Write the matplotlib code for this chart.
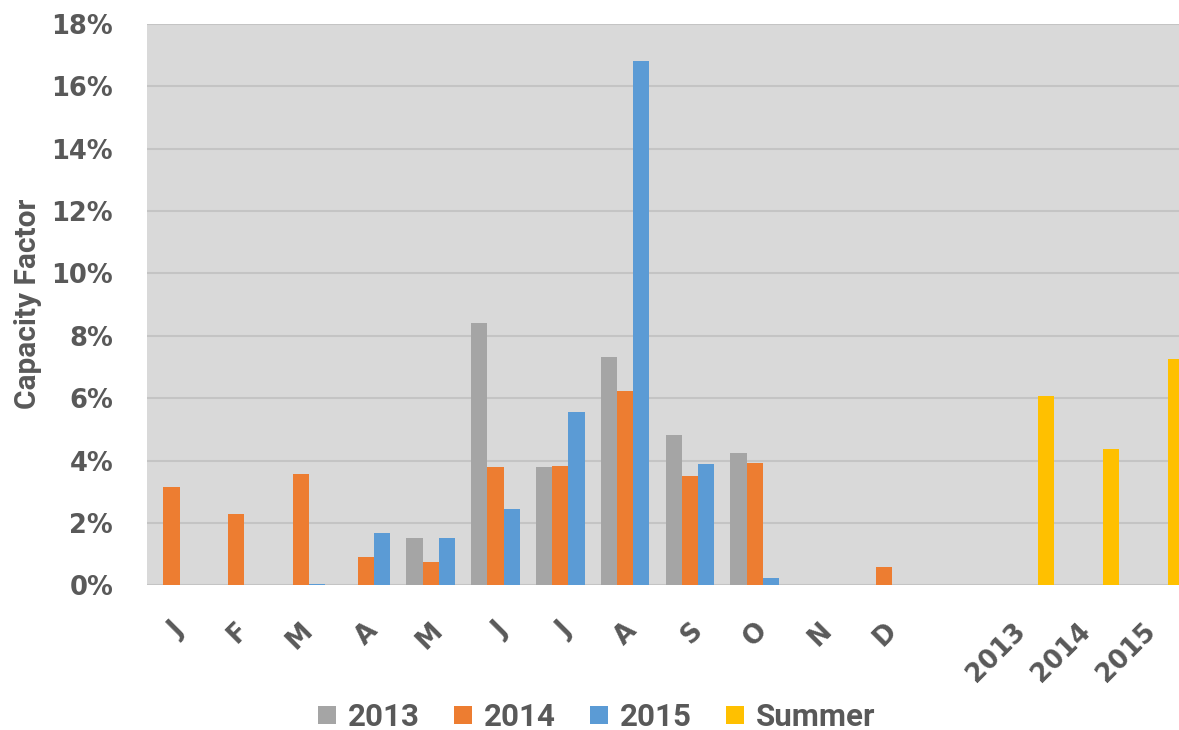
"""
Capacity factor by month
Clustered bars for 2013-2015 plus summer averages
"""
import matplotlib
matplotlib.use('Agg')
import matplotlib.pyplot as plt
from matplotlib.ticker import PercentFormatter
import numpy as np

# -- DATA --
categories = ['J', 'F', 'M', 'A', 'M', 'J', 'J', 'A', 'S', 'O', 'N', 'D',
              '', '2013', '2014', '2015']
cf_2013 = [0, 0, 0, 0, 1.51, 8.40, 3.78, 7.31, 4.82, 4.23, 0, 0,
           0, 0, 0, 0]
cf_2014 = [3.14, 2.28, 3.56, 0.90, 0.75, 3.78, 3.81, 6.24, 3.50, 3.92, 0, 0.60,
           0, 0, 0, 0]
cf_2015 = [0, 0, 0.04, 1.67, 1.51, 2.44, 5.56, 16.82, 3.90, 0.22, 0, 0,
           0, 0, 0, 0]
cf_summer = [0, 0, 0, 0, 0, 0, 0, 0, 0, 0, 0, 0,
             0, 6.07, 4.36, 7.25]
series_names = ['2013', '2014', '2015', 'Summer']
colors = ['#A5A5A5', '#ED7D31', '#5B9BD5', '#FFC000']

TEXT = '#595959'

fig = plt.figure(figsize=(11.79, 7.30), dpi=100, facecolor='white')
# plot area runs a little past the right edge, like the cropped original
ax = fig.add_axes([0.1249, 0.1982, 0.8794, 0.7693])
ax.set_facecolor('#D9D9D9')

x = np.arange(len(categories))
w = 0.25
for i, (vals, name, col) in enumerate(zip([cf_2013, cf_2014, cf_2015, cf_summer],
                                          series_names, colors)):
    ax.bar(x + (i - 1.5) * w, vals, width=w, color=col, label=name, zorder=3)

# -- AXES --
ax.set_xlim(-0.5, len(categories) - 0.5)
ax.set_ylim(0, 18)
ax.set_yticks(np.arange(0, 19, 2))
ax.yaxis.set_major_formatter(PercentFormatter(decimals=0))
ax.grid(axis='y', color='#C4C4C4', linewidth=1.5, zorder=0)
for s in ax.spines.values():
    s.set_visible(False)

ax.set_xticks(x)
ax.set_xticklabels(categories, rotation=45, ha='right', va='center',
                   rotation_mode='anchor', fontsize=18.5, fontweight='bold',
                   color=TEXT, family='DejaVu Sans')
# pads are in points (1pt = 1.39px here)
ax.tick_params(axis='x', length=0, pad=30)
ax.tick_params(axis='y', length=0, pad=24.5, labelsize=18.5, labelcolor=TEXT)
for lbl in ax.get_yticklabels():
    lbl.set_fontweight('bold')
    lbl.set_family('DejaVu Sans')

fig.text(28 / 1179, 1 - 304 / 730, 'Capacity Factor', rotation=90,
         ha='center', va='center', fontsize=21.5, fontweight='bold',
         color=TEXT, family='Roboto')

# -- LEGEND --
leg = fig.legend(loc='center', bbox_to_anchor=(597 / 1179, 1 - 717 / 730),
                 ncol=4, frameon=False,
                 prop={'family': 'Roboto', 'weight': 'bold', 'size': 22.5},
                 handlelength=0.55, handleheight=0.55, handletextpad=0.4,
                 columnspacing=1.1)
for t in leg.get_texts():
    t.set_color(TEXT)

fig.savefig('out.png', dpi=100)
